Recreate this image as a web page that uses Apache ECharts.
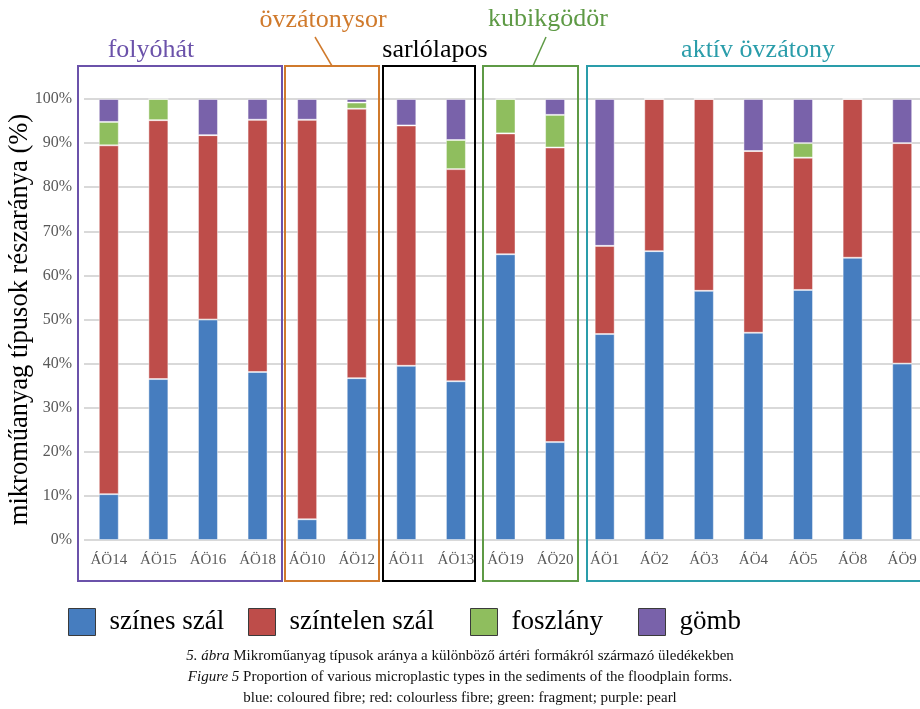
<!DOCTYPE html>
<html>
<head>
<meta charset="utf-8">
<script src="https://cdn.jsdelivr.net/npm/echarts@6/dist/echarts.min.js"></script>
<style>
  html, body { margin: 0; padding: 0; background: #fff; }
  #chart { width: 920px; height: 709px; }
</style>
</head>
<body>
<div id="chart"></div>
<script>
// mintavételi helyek
var sites = ['ÁÖ14', 'ÁÖ15', 'ÁÖ16', 'ÁÖ18', 'ÁÖ10', 'ÁÖ12', 'ÁÖ11', 'ÁÖ13', 'ÁÖ19', 'ÁÖ20',
             'ÁÖ1', 'ÁÖ2', 'ÁÖ3', 'ÁÖ4', 'ÁÖ5', 'ÁÖ8', 'ÁÖ9'];
// arányok (%)
var szinesSzal    = [10.4, 36.5, 50.0, 38.1, 4.7, 36.7, 39.5, 36.0, 64.8, 22.2, 46.7, 65.5, 56.5, 47.0, 56.7, 64.0, 40.0];
var szintelenSzal = [79.1, 58.7, 41.8, 57.2, 90.6, 61.1, 54.5, 48.1, 27.4, 66.8, 20.0, 34.5, 43.5, 41.2, 30.0, 36.0, 50.0];
var foszlany      = [5.3, 4.8, 0, 0, 0, 1.4, 0, 6.6, 7.8, 7.4, 0, 0, 0, 0, 3.3, 0, 0];
var gomb          = [5.2, 0, 8.2, 4.7, 4.7, 0.8, 6.0, 9.3, 0, 3.6, 33.3, 0, 0, 11.8, 10.0, 0, 10.0];

var seriesNames = ['színes szál', 'színtelen szál', 'foszlány', 'gömb'];
var colors = ['#467DBF', '#BE4D4A', '#8FBE5E', '#7962AA'];

var serif = '"Liberation Serif", "DejaVu Serif", serif';

var myChart = echarts.init(document.getElementById('chart'));

function mkSeries(i, data) {
    return {
        name: seriesNames[i],
        type: 'bar',
        stack: 'all',
        barWidth: 20,
        data: data,
        itemStyle: { color: colors[i], borderColor: 'rgba(255,255,255,0.45)', borderWidth: 1 }
    };
}

// egy jelmagyarázat elem
function leg(name, left) {
    return {
        top: 603,
        left: left,
        itemWidth: 27,
        itemHeight: 27,
        icon: 'rect',
        itemStyle: { borderColor: '#3a3a3a', borderWidth: 1 },
        textStyle: { color: '#000', fontFamily: serif, fontSize: 27, padding: [0, 0, 0, 9] },
        data: [name]
    };
}

// csoport keretek (annotáció)
function box(x, w, col) {
    return {
        type: 'rect', z: 10, silent: true,
        shape: { x: x, y: 66, width: w, height: 515 },
        style: { fill: 'none', stroke: col, lineWidth: 2 }
    };
}
function label(x, y, text, col) {
    return {
        type: 'text', z: 10, x: x, y: y,
        style: { text: text, fill: col, font: '26px ' + serif, textAlign: 'center', textVerticalAlign: 'middle' }
    };
}

var option = {
    animation: false,
    grid: { left: 84, top: 99, width: 843, height: 441, outerBoundsMode: 'none', containLabel: false },
    xAxis: {
        type: 'category',
        data: sites,
        axisLine: { show: false },
        axisTick: { show: false },
        axisLabel: { color: '#595959', fontFamily: serif, fontSize: 15, margin: 13 }
    },
    yAxis: {
        type: 'value',
        min: 0, max: 100, interval: 10,
        name: 'mikroműanyag típusok részaránya (%)',
        nameLocation: 'middle',
        nameGap: 50,
        nameMoveOverlap: false,
        nameTextStyle: { color: '#000', fontFamily: serif, fontSize: 26.5 },
        axisLabel: { formatter: '{value}%', color: '#595959', fontFamily: serif, fontSize: 16, margin: 12 },
        splitLine: { lineStyle: { color: '#D9D9D9', width: 2 } }
    },
    legend: [
        leg(seriesNames[0], 63),
        leg(seriesNames[1], 243),
        leg(seriesNames[2], 465),
        leg(seriesNames[3], 633)
    ],
    series: [
        mkSeries(0, szinesSzal),
        mkSeries(1, szintelenSzal),
        mkSeries(2, foszlany),
        mkSeries(3, gomb)
    ],
    graphic: [
        box(78, 204, '#6B52AA'),
        box(285, 94, '#D07A2C'),
        box(383, 92, '#000000'),
        box(483, 95, '#5E9A45'),
        box(587, 340, '#2A9DAA'),
        label(151, 50, 'folyóhát', '#6B52AA'),
        label(323, 20, 'övzátonysor', '#D07A2C'),
        label(435, 50, 'sarlólapos', '#000000'),
        label(548, 19, 'kubikgödör', '#5E9A45'),
        label(758, 50, 'aktív övzátony', '#2A9DAA'),
        { type: 'line', z: 10, silent: true, shape: { x1: 315, y1: 37, x2: 332, y2: 66 }, style: { stroke: '#D07A2C', lineWidth: 1.5 } },
        { type: 'line', z: 10, silent: true, shape: { x1: 546, y1: 37, x2: 533, y2: 66 }, style: { stroke: '#5E9A45', lineWidth: 1.5 } },
        {
            type: 'text', x: 460, y: 656,
            style: {
                text: '{i|5. ábra} Mikroműanyag típusok aránya a különböző ártéri formákról származó üledékekben',
                rich: { i: { fontStyle: 'italic', font: 'italic 15px ' + serif, fill: '#111' } },
                font: '15px ' + serif, fill: '#111', textAlign: 'center', textVerticalAlign: 'middle'
            }
        },
        {
            type: 'text', x: 460, y: 677,
            style: {
                text: '{i|Figure 5} Proportion of various microplastic types in the sediments of the floodplain forms.',
                rich: { i: { fontStyle: 'italic', font: 'italic 15px ' + serif, fill: '#111' } },
                font: '15px ' + serif, fill: '#111', textAlign: 'center', textVerticalAlign: 'middle'
            }
        },
        {
            type: 'text', x: 460, y: 698,
            style: {
                text: 'blue: coloured fibre; red: colourless fibre; green: fragment; purple: pearl',
                font: '15px ' + serif, fill: '#111', textAlign: 'center', textVerticalAlign: 'middle'
            }
        }
    ]
};
myChart.setOption(option);
</script>
</body>
</html>
